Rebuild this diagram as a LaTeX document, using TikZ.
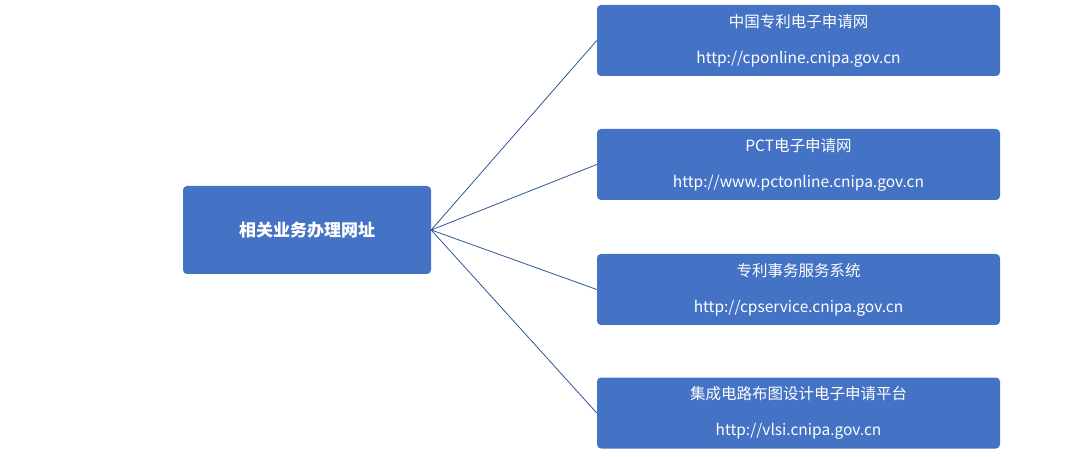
\documentclass[tikz,border=0pt]{standalone}
\usepackage{fontspec}
\setmainfont{Noto Sans CJK SC}
\usetikzlibrary{positioning}
\definecolor{boxblue}{HTML}{4472C4}
\definecolor{linkblue}{HTML}{2F5597}
\tikzstyle{hub} = [rectangle, fill=boxblue, rounded corners=4pt, text=white, font=\bfseries\fontsize{17}{20}\selectfont, minimum width=248pt, minimum height=88pt]
\tikzstyle{site} = [rectangle, fill=boxblue, rounded corners=4pt, text=white, font=\fontsize{15.5}{36}\selectfont, align=center, minimum width=403pt, minimum height=71pt]
\tikzstyle{line} = [draw=linkblue, line width=0.8pt]

\begin{document}
\begin{tikzpicture}[x=1pt, y=-1pt]
        \useasboundingbox (0,0) rectangle (1080,457);

        \node[hub] (00) at (307,230) {相关业务办理网址};

        \node[site] (01) at (798.5,40.5) {中国专利电子申请网\\http://cponline.cnipa.gov.cn};

        \node[site] (02) at (798.5,164.5) {PCT电子申请网\\http://www.pctonline.cnipa.gov.cn};

        \node[site] (03) at (798.5,289.5) {专利事务服务系统\\http://cpservice.cnipa.gov.cn};

        \node[site] (04) at (798.5,413) {集成电路布图设计电子申请平台\\http://vlsi.cnipa.gov.cn};

        \path[line] (00.east) -- (01.west);
        \path[line] (00.east) -- (02.west);
        \path[line] (00.east) -- (03.west);
        \path[line] (00.east) -- (04.west);
    \end{tikzpicture}
\end{document}
